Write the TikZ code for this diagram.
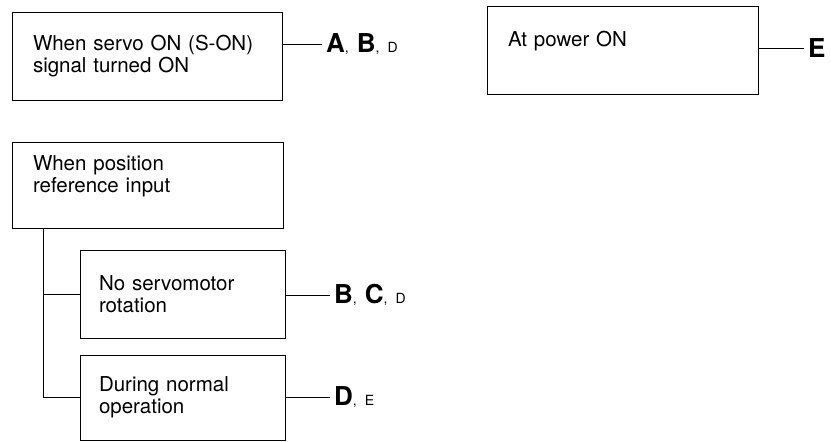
\documentclass[tikz,border=0pt]{standalone}
\usepackage{fontspec}
\setmainfont{TeX Gyre Heros}
\usepackage{tikz}
\usetikzlibrary{positioning}
\usetikzlibrary{calc}

\newcommand{\bigmark}[1]{{\fontsize{26}{26}\selectfont\bfseries #1}}
\newcommand{\smallmark}[1]{{\fontsize{14}{14}\selectfont #1}}
\newcommand{\marksep}{\smallmark{,}\hspace{8pt}}

\begin{document}
\begin{tikzpicture}[x=1pt,y=-1pt,
    casebox/.style={rectangle, draw, line width=0.9pt, align=left, inner xsep=21pt,
        font=\fontsize{20.5}{22}\selectfont},
    remedy/.style={anchor=west, inner sep=4pt},
    link/.style={line width=0.9pt}]
    \useasboundingbox (0,0) rectangle (831,442);

    % Define boxes
    \node[casebox, minimum width=270pt, minimum height=88pt, text width=228pt] (servo) at (147,56)
        {When servo ON (S-ON)\\signal turned ON};
    \node[casebox, minimum width=271pt, minimum height=88pt, text width=229pt] (power) at (622.5,50)
        {At power ON\\ \mbox{}};
    \node[casebox, minimum width=271pt, minimum height=86pt, text width=229pt] (posref) at (147.5,185)
        {When position\\reference input\\ \mbox{}};
    \node[casebox, minimum width=205pt, minimum height=88pt, text width=167pt, inner xsep=19pt] (norot) at (182.5,294)
        {No servomotor\\rotation};
    \node[casebox, minimum width=205pt, minimum height=85pt, text width=167pt, inner xsep=19pt] (normal) at (182.5,397.5)
        {During normal\\operation};

    % Define remedy labels
    \node[remedy] (servoR) at (322,44) {\bigmark{A}\marksep\bigmark{B}\marksep\smallmark{D}};
    \node[remedy] (powerR) at (804,48) {\bigmark{E}};
    \node[remedy] (norotR) at (330,295) {\bigmark{B}\marksep\bigmark{C}\marksep\smallmark{D}};
    \node[remedy] (normalR) at (330,397) {\bigmark{D}\marksep\smallmark{E}};

    % Draw connectors
    \draw[link] (servo.east |- servoR.west) -- (servoR.west);
    \draw[link] (power.east |- powerR.west) -- (powerR.west);
    \draw[link] (norot.east |- norotR.west) -- (norotR.west);
    \draw[link] (normal.east |- normalR.west) -- (normalR.west);

    % Branch from position reference
    \coordinate (trunk) at ([xshift=32pt]posref.south west);
    \draw[link] (trunk) |- (norot.west);
    \draw[link] (trunk) |- (normal.west);
\end{tikzpicture}
\end{document}
